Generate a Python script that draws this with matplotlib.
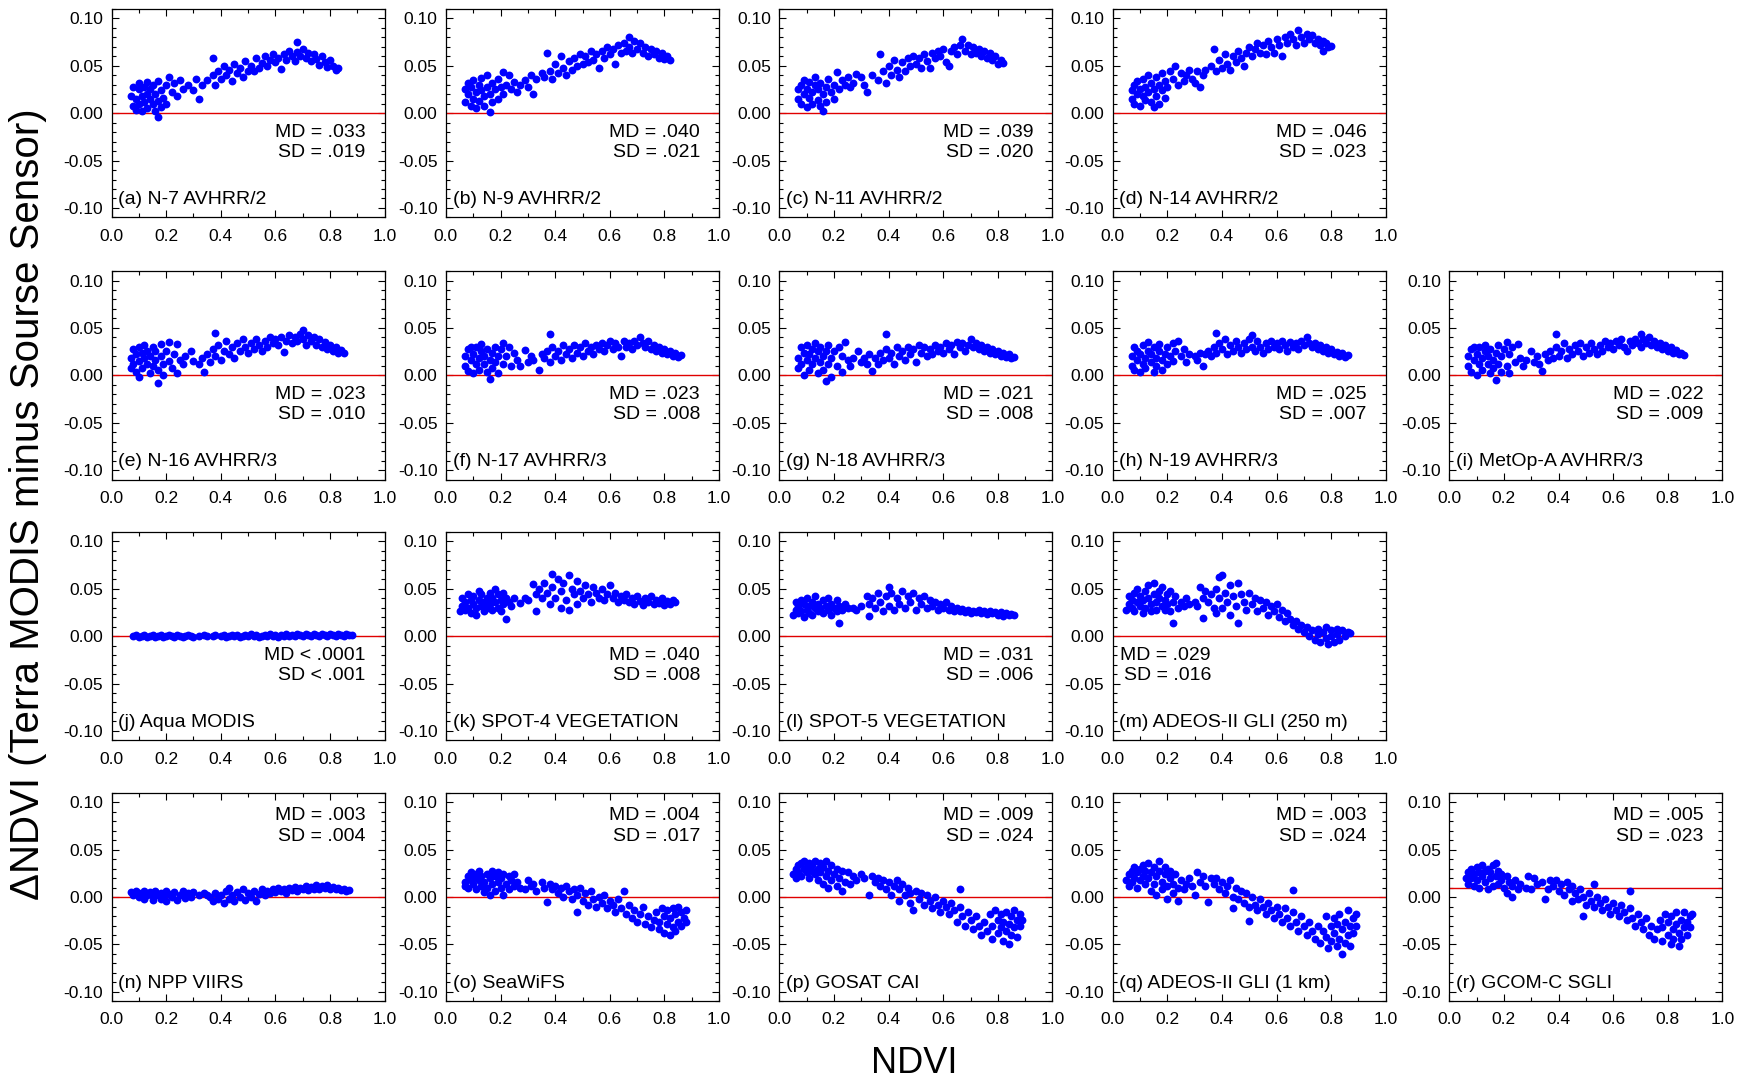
import numpy as np
import matplotlib
matplotlib.use("Agg")
import matplotlib.pyplot as plt
from matplotlib.ticker import MultipleLocator, FormatStrFormatter

plt.rcParams['font.family'] = ['Liberation Sans', 'DejaVu Sans']

# ---- data: (NDVI, delta NDVI) points per sensor ----
a_pts = [(0.07,0.018),(0.08,0.008),(0.08,0.028),(0.09,0.015),(0.09,0.003),(0.10,0.025),(0.10,0.010),(0.10,0.032),(0.11,0.018),(0.11,0.002),(0.12,0.028),(0.12,0.012),(0.13,0.020),(0.13,0.033),(0.13,0.005),(0.14,0.015),(0.14,0.026),(0.15,0.010),(0.15,0.030),(0.16,0.020),(0.16,0.002),(0.17,-0.004),(0.17,0.013),(0.17,0.034),(0.18,0.024),(0.18,0.006),(0.19,0.016),(0.20,0.030),(0.20,0.010),(0.21,0.038),
         (0.22,0.022),(0.23,0.032),(0.24,0.018),(0.25,0.035),(0.26,0.025),(0.28,0.030),(0.30,0.024),(0.31,0.036),(0.32,0.015),(0.33,0.030),(0.35,0.035),
         (0.37,0.040),(0.37,0.058),(0.38,0.030),(0.39,0.045),(0.40,0.036),(0.41,0.050),(0.42,0.040),(0.43,0.046),(0.44,0.034),(0.45,0.052),(0.46,0.042),(0.47,0.048),(0.48,0.038),(0.49,0.055),(0.50,0.045),(0.51,0.050),(0.52,0.044),(0.53,0.058),(0.54,0.048),(0.55,0.053),(0.56,0.060),(0.57,0.050),(0.58,0.056),(0.59,0.062),(0.60,0.054),
         (0.61,0.058),(0.62,0.047),(0.63,0.062),(0.64,0.056),(0.65,0.066),(0.66,0.060),(0.67,0.055),(0.68,0.075),(0.68,0.065),(0.69,0.060),(0.70,0.068),(0.71,0.058),(0.72,0.064),(0.73,0.055),(0.74,0.062),(0.75,0.057),(0.76,0.051),(0.77,0.060),(0.78,0.054),(0.79,0.049),(0.80,0.056),(0.81,0.050),(0.82,0.046),(0.83,0.048)]

b_pts = [(0.07,0.012),(0.07,0.025),(0.08,0.020),(0.08,0.032),(0.09,0.008),(0.09,0.028),(0.10,0.015),(0.10,0.035),(0.11,0.022),(0.11,0.005),(0.12,0.030),(0.12,0.013),(0.13,0.024),(0.13,0.037),(0.14,0.018),(0.14,0.008),(0.15,0.028),(0.15,0.040),(0.16,0.001),(0.16,0.020),(0.17,0.012),(0.17,0.032),(0.18,0.025),(0.19,0.036),(0.19,0.015),(0.20,0.028),(0.21,0.043),(0.21,0.020),
         (0.22,0.030),(0.23,0.040),(0.24,0.026),(0.25,0.033),(0.26,0.022),(0.27,0.030),(0.29,0.035),(0.30,0.028),(0.31,0.040),(0.32,0.020),(0.33,0.036),(0.35,0.042),
         (0.36,0.038),(0.37,0.064),(0.38,0.045),(0.39,0.036),(0.40,0.052),(0.41,0.042),(0.42,0.060),(0.43,0.048),(0.44,0.040),(0.45,0.055),(0.46,0.046),(0.47,0.058),(0.48,0.050),(0.49,0.062),(0.50,0.052),(0.51,0.060),(0.52,0.054),(0.53,0.066),(0.54,0.056),(0.55,0.062),(0.56,0.048),(0.57,0.066),(0.58,0.058),(0.59,0.070),(0.60,0.062),(0.61,0.068),(0.62,0.052),(0.63,0.072),(0.64,0.064),(0.65,0.074),(0.66,0.066),(0.67,0.080),(0.67,0.070),(0.68,0.063),(0.69,0.076),(0.70,0.068),(0.71,0.074),(0.72,0.064),(0.73,0.070),(0.74,0.060),(0.75,0.068),(0.76,0.062),(0.77,0.066),(0.78,0.058),(0.79,0.063),(0.80,0.057),(0.81,0.060),(0.82,0.056)]

c_pts = [(0.07,0.015),(0.07,0.025),(0.08,0.010),(0.08,0.030),(0.09,0.020),(0.09,0.035),(0.10,0.006),(0.10,0.026),(0.11,0.016),(0.11,0.033),(0.12,0.022),(0.12,0.010),(0.13,0.030),(0.13,0.038),(0.14,0.014),(0.14,0.025),(0.15,0.008),(0.15,0.032),(0.16,0.002),(0.16,0.020),(0.17,0.028),(0.17,0.012),(0.18,0.036),(0.19,0.022),(0.20,0.030),(0.20,0.015),(0.21,0.043),
         (0.22,0.025),(0.23,0.035),(0.24,0.030),(0.25,0.038),(0.26,0.028),(0.27,0.032),(0.28,0.041),(0.30,0.038),(0.31,0.030),(0.32,0.022),(0.34,0.040),
         (0.36,0.035),(0.37,0.062),(0.38,0.044),(0.39,0.032),(0.40,0.050),(0.41,0.040),(0.42,0.056),(0.43,0.046),(0.44,0.038),(0.45,0.054),(0.46,0.044),(0.47,0.058),(0.48,0.050),(0.49,0.060),(0.50,0.052),(0.51,0.058),(0.52,0.048),(0.53,0.062),(0.54,0.055),(0.55,0.048),(0.56,0.064),(0.57,0.058),(0.58,0.066),(0.59,0.060),(0.60,0.068),(0.61,0.054),(0.62,0.050),(0.63,0.066),(0.64,0.070),(0.65,0.062),(0.66,0.072),(0.67,0.078),(0.68,0.066),(0.69,0.072),(0.70,0.062),(0.71,0.070),(0.72,0.064),(0.73,0.068),(0.74,0.060),(0.75,0.066),(0.76,0.058),(0.77,0.063),(0.78,0.056),(0.79,0.060),(0.80,0.052),(0.81,0.056),(0.82,0.053)]

d_pts = [(0.07,0.015),(0.07,0.024),(0.08,0.030),(0.08,0.010),(0.09,0.020),(0.09,0.034),(0.10,0.026),(0.10,0.008),(0.11,0.018),(0.11,0.036),(0.12,0.028),(0.12,0.014),(0.13,0.022),(0.13,0.040),(0.14,0.032),(0.14,0.012),(0.15,0.006),(0.15,0.026),(0.16,0.038),(0.16,0.018),(0.17,0.030),(0.17,0.010),(0.18,0.042),(0.18,0.024),(0.19,0.034),(0.19,0.016),(0.20,0.028),(0.21,0.044),(0.22,0.036),(0.23,0.050),
         (0.24,0.030),(0.25,0.042),(0.26,0.034),(0.27,0.040),(0.28,0.046),(0.29,0.036),(0.30,0.032),(0.31,0.044),(0.32,0.028),(0.33,0.040),(0.34,0.046),
         (0.36,0.050),(0.37,0.068),(0.38,0.044),(0.39,0.056),(0.40,0.048),(0.41,0.062),(0.42,0.052),(0.43,0.046),(0.44,0.060),(0.45,0.054),(0.46,0.066),(0.47,0.058),(0.48,0.050),(0.49,0.064),(0.50,0.070),(0.51,0.060),(0.52,0.068),(0.53,0.074),(0.54,0.064),(0.55,0.072),(0.56,0.062),(0.57,0.076),(0.58,0.070),(0.59,0.064),(0.60,0.078),(0.61,0.072),(0.62,0.060),(0.63,0.080),(0.64,0.074),(0.65,0.084),(0.66,0.078),(0.67,0.072),(0.68,0.088),(0.69,0.080),(0.70,0.074),(0.71,0.084),(0.72,0.078),(0.73,0.082),(0.74,0.074),(0.75,0.078),(0.76,0.072),(0.77,0.076),(0.77,0.066),(0.78,0.074),(0.79,0.070),(0.80,0.071)]

e_pts = [(0.07,0.008),(0.07,0.018),(0.08,0.028),(0.08,0.012),(0.09,0.022),(0.09,0.004),(0.10,0.030),(0.10,0.015),(0.10,-0.002),(0.11,0.024),(0.11,0.008),(0.12,0.018),(0.12,0.032),(0.13,0.012),(0.13,0.026),(0.14,0.002),(0.14,0.020),(0.15,0.030),(0.15,0.010),(0.16,0.016),(0.16,0.026),(0.17,-0.008),(0.17,0.006),(0.18,0.020),(0.18,0.033),(0.19,0.012),(0.19,0.000),(0.20,0.026),(0.21,0.015),(0.21,0.035),
         (0.22,0.008),(0.23,0.022),(0.24,0.002),(0.24,0.033),(0.25,0.016),(0.26,0.012),(0.27,0.020),(0.29,0.026),(0.30,0.015),(0.32,0.012),(0.33,0.018),(0.34,0.004),(0.35,0.022),
         (0.36,0.014),(0.37,0.028),(0.38,0.045),(0.38,0.020),(0.39,0.032),(0.40,0.016),(0.41,0.026),(0.42,0.036),(0.43,0.022),(0.44,0.030),(0.45,0.018),(0.46,0.034),(0.47,0.026),(0.48,0.038),(0.49,0.030),(0.50,0.024),(0.51,0.034),(0.52,0.028),(0.53,0.038),(0.54,0.032),(0.55,0.026),(0.56,0.036),(0.57,0.030),(0.58,0.040),(0.59,0.034),(0.60,0.038),(0.61,0.032),(0.62,0.040),(0.63,0.025),(0.64,0.036),(0.65,0.042),(0.66,0.034),(0.67,0.040),(0.68,0.036),(0.69,0.044),(0.70,0.048),(0.70,0.038),(0.71,0.032),(0.72,0.042),(0.73,0.036),(0.74,0.040),(0.75,0.032),(0.76,0.038),(0.77,0.030),(0.78,0.035),(0.79,0.028),(0.80,0.032),(0.81,0.026),(0.82,0.030),(0.83,0.024),(0.84,0.027),(0.85,0.023)]

f_pts = [(0.07,0.010),(0.07,0.020),(0.08,0.028),(0.08,0.005),(0.09,0.016),(0.09,0.030),(0.10,0.002),(0.10,0.022),(0.11,0.012),(0.11,0.030),(0.12,0.018),(0.12,0.006),(0.13,0.026),(0.13,0.033),(0.14,0.012),(0.14,0.020),(0.15,0.028),(0.15,0.004),(0.16,0.016),(0.16,-0.004),(0.17,0.024),(0.17,0.008),(0.18,0.030),(0.18,0.014),(0.19,0.020),(0.19,0.002),(0.20,0.028),(0.21,0.012),(0.21,0.034),
         (0.22,0.020),(0.23,0.030),(0.24,0.010),(0.25,0.024),(0.26,0.016),(0.27,0.010),(0.29,0.027),(0.30,0.014),(0.31,0.020),(0.32,0.016),(0.34,0.006),(0.35,0.022),
         (0.36,0.018),(0.37,0.026),(0.38,0.044),(0.38,0.014),(0.39,0.030),(0.40,0.020),(0.41,0.026),(0.42,0.016),(0.43,0.032),(0.44,0.022),(0.45,0.028),(0.46,0.018),(0.47,0.032),(0.48,0.024),(0.49,0.030),(0.50,0.020),(0.51,0.034),(0.52,0.026),(0.53,0.030),(0.54,0.022),(0.55,0.032),(0.56,0.028),(0.57,0.034),(0.58,0.026),(0.59,0.032),(0.60,0.036),(0.61,0.028),(0.62,0.034),(0.63,0.030),(0.64,0.020),(0.65,0.036),(0.66,0.030),(0.67,0.034),(0.68,0.028),(0.69,0.036),(0.70,0.032),(0.71,0.040),(0.72,0.034),(0.73,0.030),(0.74,0.036),(0.75,0.028),(0.76,0.032),(0.77,0.026),(0.78,0.030),(0.79,0.024),(0.80,0.028),(0.81,0.022),(0.82,0.026),(0.83,0.020),(0.84,0.023),(0.85,0.019),(0.86,0.021)]

g_pts = [(0.07,0.018),(0.07,0.008),(0.08,0.030),(0.08,0.012),(0.09,0.024),(0.09,0.000),(0.10,0.016),(0.10,0.032),(0.11,0.006),(0.11,0.022),(0.12,0.028),(0.12,0.012),(0.13,0.018),(0.13,0.034),(0.14,0.002),(0.14,0.026),(0.15,0.014),(0.15,0.030),(0.16,0.020),(0.16,0.006),(0.17,-0.006),(0.17,0.026),(0.18,0.012),(0.18,0.032),(0.19,0.018),(0.19,-0.002),(0.20,0.026),(0.21,0.010),(0.22,0.030),(0.23,0.004),
         (0.23,0.020),(0.24,0.035),(0.25,0.016),(0.26,0.010),(0.27,0.018),(0.29,0.026),(0.30,0.014),(0.31,0.018),(0.32,0.012),(0.33,0.022),(0.34,0.005),(0.35,0.018),
         (0.36,0.012),(0.37,0.024),(0.38,0.016),(0.39,0.044),(0.39,0.028),(0.40,0.018),(0.41,0.024),(0.42,0.012),(0.43,0.030),(0.44,0.020),(0.45,0.026),(0.46,0.016),(0.47,0.030),(0.48,0.022),(0.49,0.028),(0.50,0.014),(0.51,0.032),(0.52,0.024),(0.53,0.030),(0.54,0.020),(0.55,0.028),(0.56,0.022),(0.57,0.032),(0.58,0.026),(0.59,0.030),(0.60,0.024),(0.61,0.034),(0.62,0.028),(0.63,0.032),(0.64,0.022),(0.65,0.035),(0.66,0.030),(0.67,0.034),(0.68,0.026),(0.69,0.032),(0.70,0.038),(0.71,0.030),(0.72,0.034),(0.73,0.028),(0.74,0.032),(0.75,0.026),(0.76,0.030),(0.77,0.024),(0.78,0.028),(0.79,0.022),(0.80,0.026),(0.81,0.020),(0.82,0.024),(0.83,0.019),(0.84,0.022),(0.85,0.018),(0.86,0.019)]

h_pts = [(0.07,0.010),(0.07,0.020),(0.08,0.030),(0.08,0.006),(0.09,0.016),(0.09,0.026),(0.10,0.003),(0.10,0.022),(0.11,0.012),(0.11,0.032),(0.12,0.018),(0.12,0.008),(0.13,0.026),(0.13,0.035),(0.14,0.014),(0.14,0.022),(0.15,0.030),(0.15,0.004),(0.16,0.018),(0.16,0.010),(0.17,0.026),(0.17,0.033),(0.18,0.016),(0.18,0.006),(0.19,0.022),(0.20,0.030),(0.20,0.012),(0.21,0.020),(0.22,0.034),
         (0.22,0.015),(0.23,0.026),(0.24,0.036),(0.25,0.020),(0.26,0.028),(0.27,0.014),(0.28,0.022),(0.30,0.020),(0.31,0.016),(0.32,0.024),(0.33,0.010),(0.34,0.022),(0.35,0.026),
         (0.36,0.020),(0.37,0.030),(0.38,0.045),(0.38,0.024),(0.39,0.034),(0.40,0.028),(0.41,0.038),(0.42,0.022),(0.43,0.032),(0.44,0.026),(0.45,0.036),(0.46,0.030),(0.47,0.024),(0.48,0.034),(0.49,0.028),(0.50,0.038),(0.51,0.042),(0.51,0.030),(0.52,0.026),(0.53,0.036),(0.54,0.030),(0.55,0.024),(0.56,0.034),(0.57,0.028),(0.58,0.036),(0.59,0.030),(0.60,0.034),(0.61,0.028),(0.62,0.036),(0.63,0.032),(0.64,0.026),(0.65,0.035),(0.66,0.030),(0.67,0.034),(0.68,0.028),(0.69,0.036),(0.70,0.032),(0.71,0.040),(0.72,0.034),(0.73,0.030),(0.74,0.034),(0.75,0.028),(0.76,0.032),(0.77,0.026),(0.78,0.030),(0.79,0.024),(0.80,0.028),(0.81,0.022),(0.82,0.025),(0.83,0.020),(0.84,0.023),(0.85,0.019),(0.86,0.021)]

i_pts = [(0.07,0.010),(0.07,0.020),(0.08,0.028),(0.08,0.004),(0.09,0.016),(0.09,0.030),(0.10,0.000),(0.10,0.022),(0.11,0.012),(0.11,0.030),(0.12,0.018),(0.12,0.006),(0.13,0.026),(0.13,0.032),(0.14,0.012),(0.14,0.020),(0.15,0.028),(0.15,0.002),(0.16,0.016),(0.16,0.008),(0.17,-0.005),(0.17,0.024),(0.18,0.012),(0.18,0.032),(0.19,0.004),(0.19,0.020),(0.20,0.028),(0.21,0.010),(0.21,0.035),
         (0.22,0.002),(0.22,0.022),(0.23,0.030),(0.24,0.014),(0.25,0.033),(0.26,0.018),(0.27,0.010),(0.28,0.016),(0.30,0.026),(0.31,0.014),(0.32,0.020),(0.33,0.012),(0.34,0.005),(0.35,0.022),
         (0.36,0.016),(0.37,0.026),(0.38,0.018),(0.39,0.044),(0.39,0.030),(0.40,0.020),(0.41,0.026),(0.42,0.034),(0.43,0.018),(0.44,0.028),(0.45,0.022),(0.46,0.032),(0.47,0.026),(0.48,0.034),(0.49,0.020),(0.50,0.030),(0.51,0.024),(0.52,0.034),(0.53,0.028),(0.54,0.022),(0.55,0.032),(0.56,0.026),(0.57,0.036),(0.58,0.030),(0.59,0.034),(0.60,0.028),(0.61,0.036),(0.62,0.032),(0.63,0.038),(0.64,0.030),(0.65,0.026),(0.66,0.036),(0.67,0.032),(0.68,0.038),(0.69,0.034),(0.70,0.044),(0.70,0.030),(0.71,0.038),(0.72,0.034),(0.73,0.040),(0.74,0.032),(0.75,0.036),(0.76,0.030),(0.77,0.034),(0.78,0.028),(0.79,0.032),(0.80,0.026),(0.81,0.030),(0.82,0.024),(0.83,0.027),(0.84,0.022),(0.85,0.024),(0.86,0.021)]

j_pts = [(0.08,0.000),(0.09,0.001),(0.10,-0.001),(0.11,0.000),(0.12,0.001),(0.13,-0.001),(0.14,0.000),(0.15,0.001),(0.16,-0.001),(0.17,0.000),(0.18,0.001),(0.19,-0.001),(0.20,0.000),(0.21,0.001),(0.22,0.000),(0.23,-0.001),(0.24,0.001),(0.25,0.000),(0.26,-0.001),(0.27,0.000),(0.28,0.001),(0.29,0.000),(0.30,-0.001),(0.32,0.000),(0.34,0.001),(0.35,0.000),(0.37,0.000),(0.38,0.001),(0.40,0.000),(0.41,0.001),(0.42,-0.001),(0.43,0.000),(0.44,0.001),(0.45,0.000),(0.46,0.001),(0.47,-0.001),(0.48,0.000),(0.49,0.001),(0.50,0.000),(0.51,0.002),(0.52,0.000),(0.53,0.001),(0.54,-0.001),(0.55,0.000),(0.56,0.001),(0.57,0.000),(0.58,0.002),(0.59,0.000),(0.60,0.001),(0.61,-0.001),(0.62,0.001),(0.63,0.000),(0.64,0.002),(0.65,0.000),(0.66,0.001),(0.67,0.000),(0.68,0.002),(0.69,0.001),(0.70,0.000),(0.71,0.002),(0.72,0.001),(0.73,0.000),(0.74,0.002),(0.75,0.001),(0.76,0.000),(0.77,0.002),(0.78,0.001),(0.79,0.000),(0.80,0.002),(0.81,0.001),(0.82,0.000),(0.83,0.002),(0.84,0.001),(0.85,0.000),(0.86,0.002),(0.87,0.001),(0.88,0.001)]

k_pts = [(0.05,0.026),(0.06,0.032),(0.06,0.040),(0.07,0.028),(0.07,0.036),(0.08,0.044),(0.08,0.030),(0.09,0.038),(0.09,0.024),(0.10,0.034),(0.10,0.042),(0.11,0.022),(0.11,0.030),(0.12,0.048),(0.12,0.038),(0.13,0.032),(0.13,0.044),(0.14,0.026),(0.14,0.036),(0.15,0.040),(0.15,0.030),(0.16,0.046),(0.16,0.034),(0.17,0.028),(0.17,0.040),(0.18,0.050),(0.18,0.036),(0.19,0.030),(0.19,0.044),(0.20,0.038),(0.20,0.026),(0.21,0.046),(0.21,0.034),(0.22,0.018),(0.22,0.040),(0.23,0.036),(0.24,0.032),(0.25,0.040),
         (0.27,0.035),(0.29,0.040),(0.30,0.038),(0.32,0.055),(0.33,0.027),(0.33,0.044),
         (0.34,0.050),(0.35,0.040),(0.36,0.056),(0.37,0.046),(0.38,0.034),(0.39,0.066),(0.39,0.052),(0.40,0.040),(0.41,0.060),(0.42,0.030),(0.42,0.048),(0.43,0.056),(0.44,0.038),(0.45,0.064),(0.45,0.028),(0.46,0.050),(0.47,0.044),(0.48,0.058),(0.48,0.034),(0.49,0.048),(0.50,0.040),(0.51,0.054),(0.52,0.044),(0.53,0.036),(0.54,0.052),(0.55,0.046),(0.56,0.040),(0.57,0.050),(0.58,0.038),(0.59,0.044),(0.60,0.054),(0.61,0.040),(0.62,0.046),(0.63,0.036),(0.64,0.042),(0.65,0.038),(0.66,0.044),(0.67,0.036),(0.68,0.040),(0.69,0.034),(0.70,0.042),(0.71,0.037),(0.72,0.033),(0.73,0.040),(0.74,0.036),(0.75,0.042),(0.76,0.034),(0.77,0.038),(0.78,0.035),(0.79,0.040),(0.80,0.033),(0.81,0.037),(0.82,0.034),(0.83,0.038),(0.84,0.036)]

l_pts = [(0.05,0.022),(0.06,0.028),(0.06,0.036),(0.07,0.024),(0.07,0.032),(0.08,0.038),(0.08,0.026),(0.09,0.020),(0.09,0.034),(0.10,0.028),(0.10,0.040),(0.11,0.024),(0.11,0.032),(0.12,0.036),(0.12,0.022),(0.13,0.030),(0.13,0.042),(0.14,0.026),(0.14,0.034),(0.15,0.030),(0.16,0.038),(0.16,0.024),(0.17,0.032),(0.18,0.028),(0.18,0.040),(0.19,0.022),(0.19,0.034),(0.20,0.030),(0.21,0.038),(0.21,0.026),(0.22,0.014),(0.22,0.032),(0.23,0.028),(0.24,0.034),(0.25,0.030),
         (0.27,0.030),(0.28,0.028),(0.30,0.032),(0.32,0.042),(0.33,0.021),(0.33,0.034),
         (0.34,0.040),(0.35,0.030),(0.36,0.046),(0.37,0.036),(0.38,0.026),(0.39,0.042),(0.40,0.052),(0.40,0.032),(0.41,0.046),(0.42,0.028),(0.43,0.040),(0.44,0.034),(0.45,0.048),(0.46,0.030),(0.47,0.042),(0.48,0.036),(0.49,0.046),(0.50,0.028),(0.51,0.040),(0.52,0.034),(0.53,0.042),(0.54,0.030),(0.55,0.038),(0.56,0.032),(0.57,0.036),(0.58,0.028),(0.59,0.034),(0.60,0.030),(0.61,0.036),(0.62,0.028),(0.63,0.032),(0.64,0.026),(0.65,0.030),(0.66,0.027),(0.67,0.029),(0.68,0.025),(0.69,0.028),(0.70,0.024),(0.71,0.027),(0.72,0.025),(0.73,0.028),(0.74,0.024),(0.75,0.026),(0.76,0.023),(0.77,0.027),(0.78,0.024),(0.79,0.025),(0.80,0.022),(0.81,0.025),(0.82,0.021),(0.83,0.024),(0.84,0.022),(0.85,0.023),(0.86,0.022)]

m_pts = [(0.05,0.028),(0.06,0.034),(0.06,0.042),(0.07,0.030),(0.07,0.038),(0.08,0.046),(0.08,0.026),(0.09,0.036),(0.09,0.050),(0.10,0.032),(0.10,0.042),(0.11,0.024),(0.11,0.038),(0.12,0.048),(0.12,0.030),(0.13,0.040),(0.13,0.054),(0.14,0.034),(0.14,0.026),(0.15,0.044),(0.15,0.056),(0.16,0.036),(0.16,0.028),(0.17,0.048),(0.17,0.040),(0.18,0.032),(0.18,0.052),(0.19,0.038),(0.19,0.028),(0.20,0.044),(0.20,0.034),(0.21,0.048),(0.21,0.026),(0.22,0.014),(0.22,0.036),(0.23,0.042),(0.24,0.030),(0.25,0.036),
         (0.26,0.032),(0.27,0.040),(0.28,0.034),(0.30,0.036),(0.31,0.032),(0.32,0.052),(0.33,0.019),(0.33,0.040),
         (0.34,0.048),(0.35,0.036),(0.36,0.044),(0.37,0.030),(0.38,0.050),(0.38,0.024),(0.39,0.062),(0.39,0.040),(0.40,0.064),(0.40,0.030),(0.41,0.046),(0.42,0.036),(0.43,0.054),(0.43,0.022),(0.44,0.042),(0.45,0.032),(0.46,0.056),(0.46,0.014),(0.47,0.044),(0.48,0.036),(0.49,0.028),(0.50,0.046),(0.51,0.034),(0.52,0.040),(0.53,0.026),(0.54,0.038),(0.55,0.030),(0.56,0.036),(0.57,0.022),(0.58,0.032),(0.59,0.026),(0.60,0.034),(0.61,0.020),(0.62,0.028),(0.63,0.016),(0.64,0.024),(0.65,0.018),(0.66,0.012),(0.67,0.016),(0.68,0.008),(0.69,0.012),(0.70,0.004),(0.71,0.010),(0.72,0.000),(0.73,0.006),(0.74,-0.004),(0.75,0.008),(0.75,0.002),(0.76,-0.006),(0.77,0.004),(0.78,0.010),(0.78,-0.002),(0.79,-0.008),(0.80,0.006),(0.80,0.000),(0.81,-0.006),(0.82,0.008),(0.82,0.002),(0.83,-0.004),(0.84,0.006),(0.85,0.000),(0.86,0.004),(0.87,0.003)]

n_pts = [(0.07,0.005),(0.08,0.002),(0.09,0.006),(0.10,0.000),(0.10,0.004),(0.11,0.003),(0.12,-0.002),(0.12,0.006),(0.13,0.002),(0.14,0.005),(0.15,-0.003),(0.15,0.001),(0.16,0.006),(0.17,0.002),(0.18,-0.002),(0.18,0.004),(0.19,0.000),(0.20,0.006),(0.20,-0.004),(0.21,0.003),(0.22,0.000),(0.23,0.005),(0.24,-0.003),(0.25,0.002),(0.26,0.006),(0.27,-0.001),(0.28,0.004),(0.29,0.000),(0.30,0.005),(0.32,0.002),(0.34,0.004),(0.35,0.002),(0.36,0.000),(0.37,-0.004),(0.38,0.004),(0.39,-0.002),(0.40,0.002),(0.41,-0.006),(0.42,0.006),(0.43,0.010),(0.43,-0.002),(0.44,0.002),(0.45,-0.004),(0.46,0.005),(0.47,0.000),(0.48,0.008),(0.49,-0.003),(0.50,0.004),(0.51,0.000),(0.52,0.006),(0.53,-0.004),(0.54,0.003),(0.55,0.008),(0.56,0.002),(0.57,0.006),(0.58,0.004),(0.59,0.008),(0.60,0.005),(0.61,0.010),(0.62,0.006),(0.63,0.009),(0.64,0.004),(0.65,0.010),(0.66,0.007),(0.67,0.011),(0.68,0.006),(0.69,0.010),(0.70,0.008),(0.71,0.012),(0.72,0.007),(0.73,0.011),(0.74,0.009),(0.75,0.013),(0.76,0.008),(0.77,0.012),(0.78,0.010),(0.79,0.013),(0.80,0.008),(0.81,0.011),(0.82,0.009),(0.83,0.010),(0.84,0.007),(0.85,0.009),(0.86,0.006),(0.87,0.007)]

o_pts = [(0.07,0.012),(0.07,0.016),(0.08,0.022),(0.08,0.010),(0.09,0.018),(0.09,0.026),(0.10,0.014),(0.10,0.020),(0.11,0.024),(0.11,0.008),(0.12,0.018),(0.12,0.027),(0.13,0.012),(0.13,0.022),(0.14,0.016),(0.14,0.005),(0.15,0.024),(0.15,0.010),(0.16,0.020),(0.16,0.002),(0.17,0.028),(0.17,0.014),(0.18,0.022),(0.18,0.006),(0.19,0.016),(0.19,0.026),(0.20,0.010),(0.20,0.020),(0.21,0.024),(0.21,0.002),(0.22,0.014),(0.23,0.022),(0.23,0.008),(0.24,0.018),(0.25,0.012),(0.25,0.024),
         (0.26,0.016),(0.27,0.010),(0.29,0.008),(0.30,0.018),(0.31,0.012),(0.32,0.014),(0.33,0.006),(0.35,0.016),(0.36,0.010),(0.37,-0.005),(0.38,0.014),(0.39,0.008),(0.40,0.012),
         (0.41,0.004),(0.42,0.010),(0.43,0.000),(0.44,0.012),(0.45,0.006),(0.46,-0.002),(0.47,0.008),(0.48,-0.016),(0.48,0.002),(0.49,0.010),(0.50,-0.004),(0.51,0.004),(0.52,-0.008),(0.53,0.006),(0.54,-0.002),(0.55,-0.010),(0.56,0.000),(0.57,-0.006),(0.58,0.002),(0.59,-0.012),(0.60,-0.004),(0.61,-0.008),(0.62,-0.016),(0.63,-0.002),(0.64,-0.012),(0.65,0.006),(0.66,-0.018),(0.67,-0.008),(0.68,-0.022),(0.69,-0.014),(0.70,-0.026),(0.71,-0.018),(0.72,-0.010),(0.73,-0.028),(0.74,-0.020),(0.75,-0.032),(0.76,-0.024),(0.77,-0.016),(0.78,-0.034),(0.78,-0.026),(0.79,-0.012),(0.80,-0.020),(0.80,-0.038),(0.81,-0.028),(0.81,-0.014),(0.82,-0.040),(0.82,-0.022),(0.83,-0.032),(0.83,-0.012),(0.84,-0.018),(0.84,-0.036),(0.85,-0.026),(0.85,-0.010),(0.86,-0.030),(0.86,-0.016),(0.87,-0.022),(0.88,-0.014),(0.88,-0.026)]

p_pts = [(0.05,0.024),(0.06,0.030),(0.06,0.020),(0.07,0.034),(0.07,0.026),(0.08,0.036),(0.08,0.022),(0.09,0.030),(0.09,0.038),(0.10,0.026),(0.10,0.032),(0.11,0.020),(0.11,0.036),(0.12,0.028),(0.12,0.034),(0.13,0.024),(0.13,0.038),(0.14,0.030),(0.14,0.018),(0.15,0.036),(0.15,0.026),(0.16,0.032),(0.16,0.014),(0.17,0.038),(0.17,0.022),(0.18,0.028),(0.18,0.010),(0.19,0.034),(0.19,0.018),(0.20,0.024),(0.21,0.030),(0.21,0.012),(0.22,0.020),(0.23,0.028),(0.23,0.006),(0.24,0.016),(0.25,0.026),(0.26,0.014),(0.27,0.022),(0.28,0.018),(0.30,0.024),(0.31,0.020),
         (0.33,0.002),(0.34,0.022),(0.35,0.016),(0.36,0.020),(0.37,0.012),(0.38,0.018),(0.39,0.008),(0.40,0.016),(0.41,0.002),(0.42,0.012),(0.43,0.018),(0.44,-0.004),(0.44,0.008),(0.45,0.014),(0.46,0.002),(0.47,0.010),(0.48,-0.006),(0.48,0.004),(0.49,-0.014),(0.50,0.006),(0.51,-0.002),(0.52,0.004),(0.53,-0.008),(0.54,0.002),(0.55,-0.004),(0.56,-0.012),(0.57,0.000),(0.58,-0.008),(0.59,-0.016),(0.60,-0.004),(0.61,-0.010),(0.62,-0.018),(0.63,-0.006),(0.64,-0.014),(0.65,-0.026),(0.66,0.009),(0.66,-0.010),(0.67,-0.020),(0.68,-0.030),(0.69,-0.016),(0.70,-0.024),(0.71,-0.034),(0.72,-0.020),(0.73,-0.030),(0.74,-0.040),(0.75,-0.026),(0.76,-0.036),(0.77,-0.018),(0.78,-0.030),(0.78,-0.044),(0.79,-0.014),(0.80,-0.024),(0.80,-0.038),(0.81,-0.018),(0.81,-0.032),(0.82,-0.046),(0.82,-0.026),(0.83,-0.016),(0.83,-0.036),(0.84,-0.050),(0.84,-0.028),(0.85,-0.020),(0.85,-0.040),(0.86,-0.032),(0.86,-0.014),(0.87,-0.024),(0.87,-0.042),(0.88,-0.030),(0.88,-0.018),(0.89,-0.024)]

q_pts = [(0.05,0.018),(0.06,0.024),(0.06,0.012),(0.07,0.028),(0.07,0.016),(0.08,0.032),(0.08,0.020),(0.09,0.026),(0.09,0.010),(0.10,0.030),(0.10,0.018),(0.11,0.034),(0.11,0.022),(0.12,0.014),(0.12,0.028),(0.13,0.036),(0.13,0.020),(0.14,0.006),(0.14,0.026),(0.15,0.032),(0.15,0.014),(0.16,0.022),(0.16,0.002),(0.17,0.038),(0.17,0.028),(0.18,0.016),(0.18,0.008),(0.19,0.024),(0.19,0.032),(0.20,0.012),(0.20,-0.002),(0.21,0.020),(0.21,0.028),(0.22,0.004),(0.22,0.014),(0.23,0.024),(0.24,0.010),(0.24,-0.004),(0.25,0.018),(0.26,0.008),(0.27,0.014),
         (0.28,0.020),(0.29,0.012),(0.30,0.002),(0.31,0.026),(0.32,0.016),(0.33,0.022),(0.34,0.012),(0.35,-0.005),(0.36,0.020),
         (0.37,0.014),(0.38,0.020),(0.39,0.008),(0.40,0.016),(0.41,0.004),(0.42,0.012),(0.43,0.018),(0.44,0.000),(0.44,-0.012),(0.45,0.010),(0.46,-0.002),(0.47,0.006),(0.48,-0.006),(0.49,0.004),(0.50,-0.010),(0.50,-0.025),(0.51,0.000),(0.52,-0.008),(0.53,-0.014),(0.54,-0.002),(0.55,-0.010),(0.56,-0.018),(0.57,-0.006),(0.58,-0.014),(0.59,-0.022),(0.60,-0.010),(0.61,-0.018),(0.62,-0.026),(0.63,-0.012),(0.64,-0.022),(0.65,-0.030),(0.66,0.007),(0.66,-0.016),(0.67,-0.026),(0.68,-0.036),(0.69,-0.020),(0.70,-0.030),(0.71,-0.040),(0.72,-0.026),(0.73,-0.036),(0.74,-0.044),(0.75,-0.030),(0.76,-0.048),(0.77,-0.036),(0.78,-0.020),(0.78,-0.042),(0.79,-0.054),(0.80,-0.030),(0.80,-0.046),(0.81,-0.022),(0.81,-0.038),(0.82,-0.052),(0.82,-0.028),(0.83,-0.044),(0.83,-0.018),(0.84,-0.060),(0.84,-0.034),(0.85,-0.026),(0.85,-0.048),(0.86,-0.040),(0.86,-0.014),(0.87,-0.030),(0.87,-0.052),(0.88,-0.022),(0.88,-0.038),(0.89,-0.018),(0.89,-0.030)]

r_pts = [(0.06,0.020),(0.07,0.026),(0.07,0.014),(0.08,0.030),(0.08,0.020),(0.09,0.024),(0.09,0.012),(0.10,0.032),(0.10,0.018),(0.11,0.026),(0.11,0.010),(0.12,0.034),(0.12,0.022),(0.13,0.016),(0.13,0.028),(0.14,0.030),(0.14,0.008),(0.15,0.020),(0.15,0.026),(0.16,0.012),(0.16,0.034),(0.17,0.036),(0.17,0.022),(0.18,0.028),(0.18,0.014),(0.19,0.018),(0.19,0.024),(0.20,0.010),(0.21,0.022),(0.21,0.004),(0.22,0.016),(0.23,0.012),(0.23,0.000),(0.24,0.018),(0.25,0.008),(0.26,0.014),
         (0.28,0.010),(0.29,0.022),(0.30,0.008),(0.31,0.020),(0.32,0.014),(0.34,0.016),(0.35,-0.002),(0.36,0.008),(0.37,0.018),
         (0.38,0.012),(0.39,0.018),(0.40,0.006),(0.41,0.014),(0.42,0.002),(0.43,0.016),(0.44,0.008),(0.45,-0.004),(0.45,0.012),(0.46,0.004),(0.47,-0.002),(0.48,0.008),(0.49,-0.020),(0.49,0.000),(0.50,-0.008),(0.51,0.004),(0.52,-0.004),(0.53,0.014),(0.53,-0.010),(0.54,0.000),(0.55,-0.006),(0.56,-0.014),(0.57,-0.002),(0.58,-0.010),(0.59,-0.018),(0.60,-0.006),(0.61,-0.014),(0.62,-0.020),(0.63,-0.008),(0.64,-0.016),(0.65,-0.024),(0.66,0.006),(0.66,-0.012),(0.67,-0.022),(0.68,-0.030),(0.69,-0.018),(0.70,-0.026),(0.71,-0.034),(0.72,-0.022),(0.73,-0.040),(0.74,-0.030),(0.75,-0.044),(0.76,-0.034),(0.77,-0.024),(0.78,-0.046),(0.78,-0.032),(0.79,-0.018),(0.80,-0.040),(0.80,-0.026),(0.81,-0.050),(0.81,-0.020),(0.82,-0.034),(0.82,-0.044),(0.83,-0.016),(0.83,-0.028),(0.84,-0.052),(0.84,-0.038),(0.85,-0.024),(0.85,-0.044),(0.86,-0.032),(0.86,-0.016),(0.87,-0.026),(0.87,-0.040),(0.88,-0.020),(0.88,-0.032),(0.89,-0.018)]

titles = ['(a) N-7 AVHRR/2', '(b) N-9 AVHRR/2', '(c) N-11 AVHRR/2', '(d) N-14 AVHRR/2',
          '(e) N-16 AVHRR/3', '(f) N-17 AVHRR/3', '(g) N-18 AVHRR/3', '(h) N-19 AVHRR/3', '(i) MetOp-A AVHRR/3',
          '(j) Aqua MODIS', '(k) SPOT-4 VEGETATION', '(l) SPOT-5 VEGETATION', '(m) ADEOS-II GLI (250 m)',
          '(n) NPP VIIRS', '(o) SeaWiFS', '(p) GOSAT CAI', '(q) ADEOS-II GLI (1 km)', '(r) GCOM-C SGLI']
md_text = ['MD = .033', 'MD = .040', 'MD = .039', 'MD = .046',
           'MD = .023', 'MD = .023', 'MD = .021', 'MD = .025', 'MD = .022',
           'MD < .0001', 'MD = .040', 'MD = .031', 'MD = .029',
           'MD = .003', 'MD = .004', 'MD = .009', 'MD = .003', 'MD = .005']
sd_text = ['SD = .019', 'SD = .021', 'SD = .020', 'SD = .023',
           'SD = .010', 'SD = .008', 'SD = .008', 'SD = .007', 'SD = .009',
           'SD < .001', 'SD = .008', 'SD = .006', 'SD = .016',
           'SD = .004', 'SD = .017', 'SD = .024', 'SD = .024', 'SD = .023']
# red reference line level (panel r is drawn slightly above zero in the original)
ref_line = [0.0] * 17 + [0.0095]

all_pts = [a_pts, b_pts, c_pts, d_pts, e_pts, f_pts, g_pts, h_pts, i_pts,
           j_pts, k_pts, l_pts, m_pts, n_pts, o_pts, p_pts, q_pts, r_pts]
# (row, col) of each panel in the grid
grid_pos = [(0, 0), (0, 1), (0, 2), (0, 3),
            (1, 0), (1, 1), (1, 2), (1, 3), (1, 4),
            (2, 0), (2, 1), (2, 2), (2, 3),
            (3, 0), (3, 1), (3, 2), (3, 3), (3, 4)]

fig = plt.figure(figsize=(17.48, 10.85), dpi=100)
col_left = [0.0638, 0.2551, 0.4458, 0.6365, 0.8291]
row_bottom = [0.7996, 0.558, 0.3176, 0.0771]
w, h = 0.1563, 0.1922

for idx, pts in enumerate(all_pts):
    r, c = grid_pos[idx]
    ax = fig.add_axes([col_left[c], row_bottom[r], w, h])
    xy = np.array(pts)
    ax.scatter(xy[:, 0], xy[:, 1], s=32, c='#0000ff', marker='o', linewidths=0, zorder=3)
    ax.axhline(ref_line[idx], color='#e00000', lw=1.0, zorder=2)
    ax.set_xlim(0, 1)
    ax.set_ylim(-0.11, 0.11)
    ax.xaxis.set_major_locator(MultipleLocator(0.2))
    ax.xaxis.set_minor_locator(MultipleLocator(0.1))
    ax.yaxis.set_major_locator(MultipleLocator(0.05))
    ax.yaxis.set_minor_locator(MultipleLocator(0.01))
    ax.xaxis.set_major_formatter(FormatStrFormatter('%.1f'))
    ax.yaxis.set_major_formatter(FormatStrFormatter('%.2f'))
    ax.tick_params(which='both', direction='in', top=True, right=True, labelsize=12.5, width=0.8)
    ax.tick_params(which='major', length=5)
    ax.tick_params(which='minor', length=3)
    ax.tick_params(axis='x', pad=8)
    ax.tick_params(axis='y', pad=6)
    for sp in ax.spines.values():
        sp.set_linewidth(0.9)

    ax.text(0.025, 0.045, titles[idx], transform=ax.transAxes, fontsize=14,
            ha='left', va='bottom')
    stats = md_text[idx] + '\n' + sd_text[idx]
    if r == 3:
        sx, sy = 0.93, 0.93
    elif idx == 12:
        sx, sy = 0.36, 0.45
    else:
        sx, sy = 0.93, 0.45
    ax.text(sx, sy, stats, transform=ax.transAxes, fontsize=14, ha='right',
            va='top', multialignment='right', linespacing=1.25)

fig.text(0.016, 0.535, '\u0394NDVI (Terra MODIS minus Sourse Sensor)', rotation=90,
         fontsize=29, ha='center', va='center')
fig.text(0.523, 0.02, 'NDVI', fontsize=26, ha='center', va='center')

fig.savefig('out.png', dpi=100)
